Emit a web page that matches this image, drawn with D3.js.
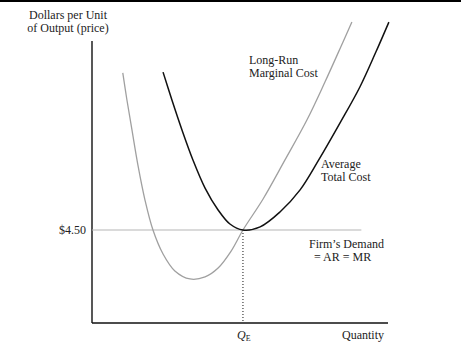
<!DOCTYPE html>
<html>
<head>
<meta charset="utf-8">
<script src="https://cdn.jsdelivr.net/npm/d3@7"></script>
<style>
  body { margin: 0; background: #fff; }
  text { font-family: "Liberation Serif", "DejaVu Serif", serif; fill: #222; }
</style>
</head>
<body>
<div id="chart"></div>
<script>
// curve readings: quantity (0-100) and price ($)
const mcQty   = [10.4, 11.8, 13.5, 15.5, 17.9, 20.6, 24.0, 28.0, 33.1, 38.2, 42.6, 47.0, 51.0, 57.8, 65.2, 72.6, 78.7, 84.8, 87.8];
const mcPrice = [12.10, 10.79, 9.34, 7.65, 5.95, 4.50, 3.34, 2.52, 2.13, 2.23, 2.66, 3.48, 4.50, 6.00, 7.89, 9.82, 11.66, 13.60, 14.56];

const atcQty   = [24.0, 27.0, 30.4, 34.1, 38.2, 42.6, 46.6, 51.0, 56.8, 63.5, 70.3, 76.4, 83.8, 90.5, 95.9, 100.3];
const atcPrice = [12.14, 10.79, 9.34, 7.89, 6.53, 5.47, 4.79, 4.50, 4.65, 5.37, 6.44, 7.84, 9.68, 11.42, 13.11, 14.56];

const priceLevel = 4.50;
const priceLabel = "$4.50";
const qEquilibrium = 51.0;
const demandEnd = 91;

const width = 461, height = 353;

const svg = d3.select("#chart").append("svg")
  .attr("width", width)
  .attr("height", height);

// scales
const x = d3.scaleLinear().domain([0, 100]).range([92, 388]);
const y = d3.scaleLinear().domain([0, 15]).range([323, 13]);

// top rule
svg.append("line")
  .attr("x1", 0).attr("x2", width)
  .attr("y1", 1).attr("y2", 1)
  .attr("stroke", "#000").attr("stroke-width", 2);

// axes (plain lines, no ticks)
svg.append("line")
  .attr("x1", x(0)).attr("x2", x(0))
  .attr("y1", 41).attr("y2", y(0))
  .attr("stroke", "#111").attr("stroke-width", 1.4);
svg.append("line")
  .attr("x1", x(0)).attr("x2", x(100))
  .attr("y1", y(0)).attr("y2", y(0))
  .attr("stroke", "#111").attr("stroke-width", 1.4);

// demand line
svg.append("line")
  .attr("x1", x(0)).attr("x2", x(demandEnd))
  .attr("y1", y(priceLevel)).attr("y2", y(priceLevel))
  .attr("stroke", "#b5b5b5").attr("stroke-width", 1);

// dotted drop to Q_E
svg.append("line")
  .attr("x1", x(qEquilibrium)).attr("x2", x(qEquilibrium))
  .attr("y1", y(priceLevel)).attr("y2", y(0))
  .attr("stroke", "#111").attr("stroke-width", 1)
  .attr("stroke-dasharray", "1,2");

const line = d3.line()
  .x(d => x(d[0]))
  .y(d => y(d[1]))
  .curve(d3.curveCatmullRom.alpha(0.5));

svg.append("path")
  .datum(mcQty.map((q, i) => [q, mcPrice[i]]))
  .attr("d", line)
  .attr("fill", "none")
  .attr("stroke", "#a0a0a0")
  .attr("stroke-width", 1.3);

svg.append("path")
  .datum(atcQty.map((q, i) => [q, atcPrice[i]]))
  .attr("d", line)
  .attr("fill", "none")
  .attr("stroke", "#111")
  .attr("stroke-width", 1.5);

// labels
const fs = 12;
function label(lines, px, py, anchor) {
  const t = svg.append("text")
    .attr("x", px).attr("y", py)
    .attr("font-size", fs)
    .attr("text-anchor", anchor || "start");
  lines.forEach((s, i) => {
    t.append("tspan").attr("x", px + (s.dx || 0)).attr("dy", i ? 13 : 0).text(s.t);
  });
}

label([{ t: "Dollars per Unit" }, { t: "of Output (price)" }], 68, 19, "middle");
label([{ t: "Long-Run" }, { t: "Marginal Cost" }], 249, 64);
label([{ t: "Average" }, { t: "Total Cost" }], 321, 168);
label([{ t: "Firm\u2019s Demand" }, { t: "= AR = MR", dx: 5 }], 309, 248);

svg.append("text")
  .attr("x", 86).attr("y", y(priceLevel) + 4)
  .attr("font-size", fs)
  .attr("text-anchor", "end")
  .text(priceLabel);

const qe = svg.append("text")
  .attr("x", x(qEquilibrium) - 6).attr("y", 339)
  .attr("font-size", fs);
qe.append("tspan").attr("font-style", "italic").text("Q");
qe.append("tspan").attr("font-size", 8).attr("dy", 2).text("E");

svg.append("text")
  .attr("x", 342).attr("y", 339)
  .attr("font-size", fs)
  .text("Quantity");
</script>
</body>
</html>
